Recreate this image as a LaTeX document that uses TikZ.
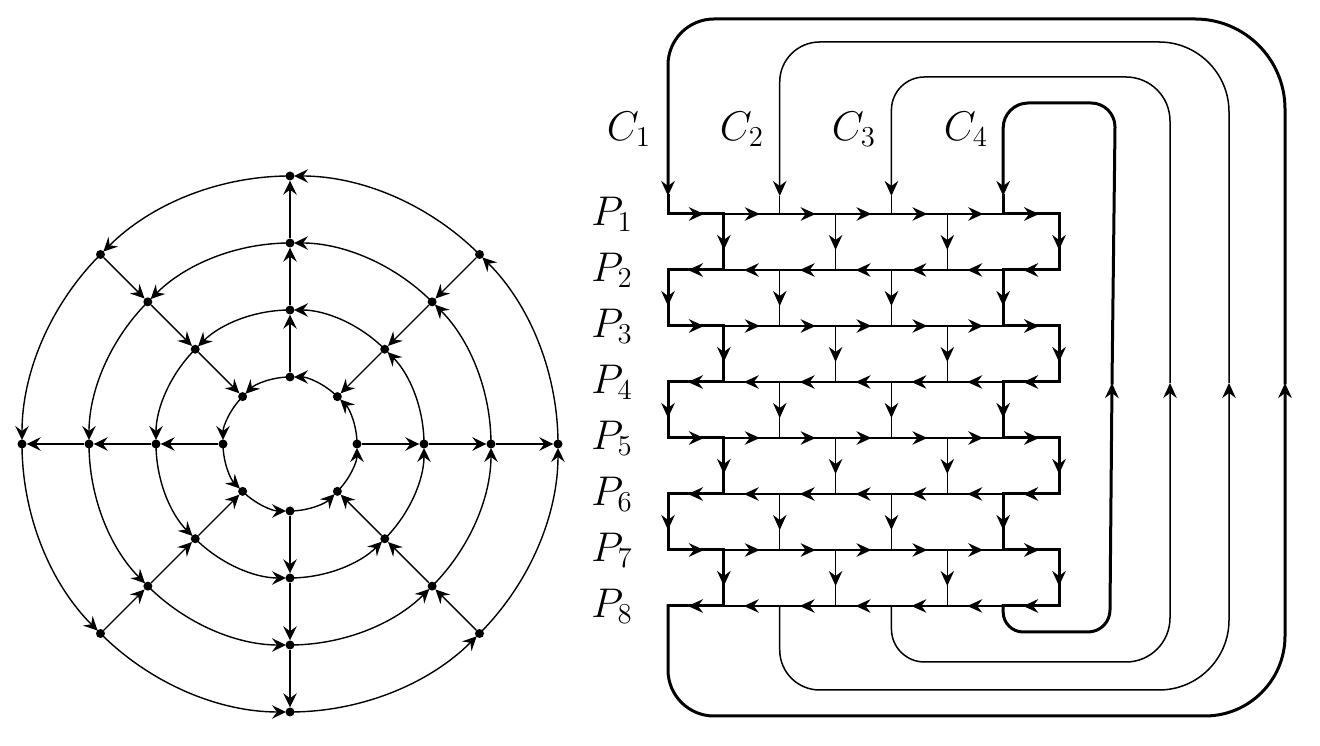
\documentclass[tikz,border=0pt]{standalone}
\usetikzlibrary{arrows.meta,decorations.markings,calc}
\tikzset{
  Arr/.tip={Stealth[length=15pt,width=13.5pt,inset=5pt]},
  Arc/.tip={Stealth[length=14pt,width=13.5pt,inset=5pt]},
  thinl/.style={line width=1.5pt},
  thickl/.style={line width=3pt,line cap=rect},
  circl/.style={line width=1.4pt},
  dot/.style={circle,fill=black,inner sep=0pt,minimum size=9pt},
  midarr/.style={postaction={decorate},decoration={markings,mark=at position 0.5 with {\pgftransformxshift{8pt}\arrow{Arr}}}},
  lab/.style={font=\huge,scale=2,inner sep=0pt}
}
\begin{document}
\begin{tikzpicture}[x=1pt,y=1pt]
\useasboundingbox (0,0) rectangle (1320,746);

% ---------------- left: circular graph ----------------
\coordinate (c) at (290,302);
\foreach \k in {1,...,4}{\foreach \a in {0,...,7}{
  \node[dot] (n-\k-\a) at ($(c)+(\a*45:\k*67pt)$) {};
}}
\foreach \k in {1,...,4}{\foreach \a in {0,...,7}{
  \draw[circl,-{Arc},shorten >=4pt] (n-\k-\a.center) arc[start angle=\a*45,end angle=\a*45+45,radius=\k*67pt];
}}
\foreach \a in {0,2,4,6}{\foreach \k/\kk in {1/2,2/3,3/4}{
  \draw[circl,-{Arc}] (n-\k-\a) -- (n-\kk-\a);
}}
\foreach \a in {1,3,5,7}{\foreach \k/\kk in {1/2,2/3,3/4}{
  \draw[circl,-{Arc}] (n-\kk-\a) -- (n-\k-\a);
}}

% ---------------- right: grid ----------------
\foreach \i in {1,...,8}{\foreach \j in {0,...,7}{
  \coordinate (g-\i-\j) at ({668+55.86*\j},{532-56*(\i-1)});
}}
% horizontal paths
\foreach \i in {1,...,8}{\foreach \j in {0,...,6}{
  \pgfmathtruncatemacro\jj{\j+1}
  \ifnum\j=0 \def\st{thickl}\else\ifnum\j=6 \def\st{thickl}\else\def\st{thinl}\fi\fi
  \ifodd\i
    \draw[\st,midarr] (g-\i-\j) -- (g-\i-\jj);
  \else
    \draw[\st,midarr] (g-\i-\jj) -- (g-\i-\j);
  \fi
}}
% vertical links
\foreach \i in {1,...,7}{
  \pgfmathtruncatemacro\ii{\i+1}
  \ifodd\i \def\cols{1,3,5,7}\else\def\cols{0,2,4,6}\fi
  \foreach \j in \cols {
    \ifnum\j<2 \def\st{thickl}\else\ifnum\j>5 \def\st{thickl}\else\def\st{thinl}\fi\fi
    \draw[\st,midarr] (g-\i-\j) -- (g-\ii-\j);
  }
}

% labels
\foreach \i in {1,...,8}{\node[lab] (p\i) at ([xshift=-56pt]g-\i-0) {$P_{\i}$};}
\node[lab] (cl1) at (629,617) {$C_1$};
\node[lab] (cl2) at (742,617) {$C_2$};
\node[lab] (cl3) at (854,617) {$C_3$};
\node[lab] (cl4) at (966,617) {$C_4$};

% C curves
\coordinate (c1-a) at (1285,363); \coordinate (c1-t) at (668,550);
\coordinate (c2-a) at (1229,363); \coordinate (c2-t) at (779.72,550);
\coordinate (c3-a) at (1170,363); \coordinate (c3-t) at (891.44,550);
\coordinate (c4-a) at (1112,363); \coordinate (c4-t) at (1003.16,550);

% C1
\draw[thickl,-{Arr}] (g-8-0) -- (668,76) arc[start angle=180,end angle=270,radius=46pt]
  -- (1205,30) arc[start angle=270,end angle=360,radius=80pt] -- (c1-a);
\draw[thickl,-{Arr}] (c1-a) -- (1285,637) arc[start angle=0,end angle=90,radius=90pt]
  -- (714,727) arc[start angle=90,end angle=180,radius=46pt] -- (c1-t);
\draw[thickl] (c1-t) -- (g-1-0);
% C2
\draw[thinl,-{Arr}] (g-8-2) -- (779.72,96) arc[start angle=180,end angle=270,radius=40pt]
  -- (1159,56) arc[start angle=270,end angle=360,radius=70pt] -- (c2-a);
\draw[thinl,-{Arr}] (c2-a) -- (1229,634) arc[start angle=0,end angle=90,radius=70pt]
  -- (819.72,704) arc[start angle=90,end angle=180,radius=40pt] -- (c2-t);
\draw[thinl] (c2-t) -- (g-1-2);
% C3
\draw[thinl,-{Arr}] (g-8-4) -- (891.44,117) arc[start angle=180,end angle=270,radius=33pt]
  -- (1126,84) arc[start angle=270,end angle=360,radius=44pt] -- (c3-a);
\draw[thinl,-{Arr}] (c3-a) -- (1170,625) arc[start angle=0,end angle=90,radius=44pt]
  -- (924.44,669) arc[start angle=90,end angle=180,radius=33pt] -- (c3-t);
\draw[thinl] (c3-t) -- (g-1-4);
% C4
\draw[thickl,-{Arr}] (g-8-6) -- (1003.16,134) arc[start angle=180,end angle=270,radius=20pt]
  -- (1088,114) arc[start angle=270,end angle=360,radius=22pt] -- (c4-a);
\draw[thickl,-{Arr}] (c4-a) -- (1115,619) arc[start angle=0,end angle=90,radius=24pt]
  -- (1028.16,643) arc[start angle=90,end angle=180,radius=25pt] -- (c4-t);
\draw[thickl] (c4-t) -- (g-1-6);
\end{tikzpicture}
\end{document}
